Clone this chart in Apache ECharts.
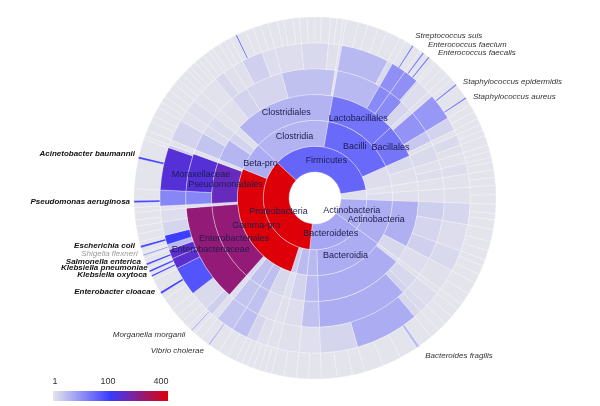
<!DOCTYPE html>
<html><head><meta charset="utf-8">
<script src="https://cdn.jsdelivr.net/npm/echarts@6/dist/echarts.min.js"></script>
<style>html,body{margin:0;padding:0;background:#fff}#c{width:600px;height:406px}</style>
</head><body><div id="c"></div>
<script>
// ---------------- data (angles in degrees, colour score 1..400) ----------------
const phyla = [
  ['Firmicutes', 31], ['OtherPhyla', 1.1], ['Actinobacteria', 4.4], ['Bacteroidetes', 5.3], ['Proteobacteria', 400]
];
const classes = [
  ['Clostridia','Firmicutes',3.8], ['Bacilli','Firmicutes',28], ['Fc_other','Firmicutes',1.2],
  ['OPc1','OtherPhyla',1.05], ['OPc2','OtherPhyla',1.2],
  ['Actinobacteria_c','Actinobacteria',4.4],
  ['Bacteroidia','Bacteroidetes',4.6], ['Flavobacteriia','Bacteroidetes',3.2],
  ['Alpha-pro','Proteobacteria',3], ['Delta-pro','Proteobacteria',1.8],
  ['Gamma-pro','Proteobacteria',400], ['Beta-pro','Proteobacteria',4.6]
];
const orders = [
  ['Clostridiales','Clostridia',3.8],
  ['Lactobacillales','Bacilli',21], ['Bacillales','Bacilli',20],
  ['Fo1','Fc_other',1.3], ['Fo2','Fc_other',1.1],
  ['OPo1','OPc1',1.05], ['OPo2','OPc2',1.15],
  ['Actinomycetales','Actinobacteria_c',4.2], ['Ao2','Actinobacteria_c',1.4],
  ['Bo0','Bacteroidia',1.2], ['Bacteroidales','Bacteroidia',4.6],
  ['Flavobacteriales','Flavobacteriia',3],
  ['Rhizobiales','Alpha-pro',1.6], ['Do1','Delta-pro',1.15],
  ['Go1','Gamma-pro',1.4], ['Pasteurellales','Gamma-pro',2.8], ['Vibrionales','Gamma-pro',2.6], ['Go3','Gamma-pro',1.3],
  ['Enterobacteriales','Gamma-pro',265], ['Xanthomonadales','Gamma-pro',1.3],
  ['Pseudomonadales','Gamma-pro',181], ['Go5','Gamma-pro',1.1],
  ['Burkholderiales','Beta-pro',3.6], ['Neisseriales','Beta-pro',1.6], ['Bo3','Beta-pro',1.1]
];
const families = [
  ['Cf0','Clostridiales',1.1], ['Peptostreptococcaceae','Clostridiales',1.6], ['Lachnospiraceae','Clostridiales',1.5],
  ['Clostridiaceae','Clostridiales',2.6], ['Cf4','Clostridiales',1.05],
  ['Lactobacillaceae','Lactobacillales',3.2], ['Streptococcaceae','Lactobacillales',11.5],
  ['Enterococcaceae','Lactobacillales',11.5], ['Lf3','Lactobacillales',1.5],
  ['Bf0','Bacillales',1.2], ['Staphylococcaceae','Bacillales',9], ['Bacillaceae','Bacillales',2.2], ['Bf3','Bacillales',1.1],
  ['Ff1','Fo1',1.3], ['Ff2','Fo2',1.1], ['Ff3','Fo2',1.2],
  ['OPf1','OPo1',1.05], ['OPf2','OPo2',1.1],
  ['Af1','Actinomycetales',1.8], ['Af2','Actinomycetales',1.5], ['Af3','Actinomycetales',1.7], ['Af4','Ao2',1.2],
  ['Bxf0','Bo0',1.1], ['Bf_1','Bacteroidales',1.4], ['Bf_2','Bacteroidales',1.6], ['Bacteroidaceae','Bacteroidales',4.6],
  ['Flavobacteriaceae','Flavobacteriales',2.6],
  ['Pf1','Rhizobiales',1.2], ['Pf2','Do1',1.1],
  ['Gf1','Go1',1.2], ['Pasteurellaceae','Pasteurellales',2.6], ['Vibrionaceae','Vibrionales',2.4], ['Gf3','Go3',1.15],
  ['Enterobacteriaceae','Enterobacteriales',265], ['Gf4','Xanthomonadales',1.1],
  ['Pseudomonadaceae','Pseudomonadales',12.6], ['Moraxellaceae','Pseudomonadales',150], ['Gf5','Go5',1.05],
  ['Bkf1','Burkholderiales',2.4], ['Bkf2','Burkholderiales',1.3], ['Nf','Neisseriales',1.3], ['Bof','Bo3',1.05]
];
const genera = [
  ['Cg0','Cf0',1.05], ['Pg1','Peptostreptococcaceae',1.4], ['Pg2','Peptostreptococcaceae',1.1],
  ['Lg1','Lachnospiraceae',1.1], ['Lg2','Lachnospiraceae',1.7], ['Lg3','Lachnospiraceae',1.2],
  ['Cg1','Clostridiaceae',1.2], ['Cg2','Clostridiaceae',1.35], ['Cg3','Clostridiaceae',1.1], ['Cg4','Cf4',1.05],
  ['Lactobacillus','Lactobacillaceae',3.2], ['Lgx','Lactobacillaceae',1.3],
  ['Streptococcus','Streptococcaceae',10], ['Enterococcus','Enterococcaceae',10], ['Eg2','Enterococcaceae',1.5],
  ['Lg3x','Lf3',1.2], ['Bg0','Bf0',1.1], ['Staphylococcus','Staphylococcaceae',8],
  ['Bacillus','Bacillaceae',1.6], ['Bg3','Bf3',1.05],
  ['Ffg1','Ff1',1.3], ['Ffg2','Ff1',1.1], ['Ffg3','Ff2',1.05], ['Ffg4','Ff3',1.2],
  ['OPg1','OPf1',1.05], ['OPg2','OPf2',1.1],
  ['Ag1','Af1',1.45], ['Ag2','Af2',1.2], ['Ag3','Af3',1.35], ['Ag4','Af4',1.1],
  ['Bxg0','Bxf0',1.05], ['Bg_1','Bf_1',1.2], ['Bg_2','Bf_2',1.3],
  ['Bg_3','Bacteroidaceae',1.4], ['Bacteroides','Bacteroidaceae',4.6], ['Bg_5','Bacteroidaceae',1.5],
  ['Flg','Flavobacteriaceae',1.15], ['Pg_1','Pf1',1.1], ['Pg_2','Pf2',1.05],
  ['Gg1','Gf1',1.1], ['Gg2','Gf1',1.5], ['Haemophilus','Pasteurellaceae',2.8], ['Vibrio','Vibrionaceae',2.4], ['Gg3','Gf3',1.1],
  ['Morganella','Enterobacteriaceae',1.8], ['Eg_a','Enterobacteriaceae',1.3], ['Enterobacter','Enterobacteriaceae',49],
  ['Klebsiella','Enterobacteriaceae',160], ['Salmonella','Enterobacteriaceae',160], ['Shigella','Enterobacteriaceae',3],
  ['Escherichia','Enterobacteriaceae',90], ['Eg_c','Enterobacteriaceae',1.5], ['Eg_d','Enterobacteriaceae',1.2],
  ['Gg4','Gf4',1.05], ['Pseudomonas','Pseudomonadaceae',12.6],
  ['Acinetobacter','Moraxellaceae',150], ['Mg2','Moraxellaceae',2], ['Gg5','Gf5',1.05],
  ['Bkg1','Bkf1',1.6], ['Bkg2','Bkf2',1.15], ['Ng','Nf',1.2], ['Bog','Bof',1.05]
];
// species per genus: a number = unnamed species (degrees); [name, degrees, score] = named species
const species = [
  ['Cg0',[2,1.5,2,1.5]], ['Pg1',[2,2]], ['Pg2',[1.5,2.5]],
  ['Lg1',[2,2]], ['Lg2',[2,['',0.5,30],3,2.5]], ['Lg3',[2.5,2.5]],
  ['Cg1',[3,2,3,2]], ['Cg2',[2.5,2.5,2,3]], ['Cg3',[2,2]], ['Cg4',[1]],
  ['Lactobacillus',[4,3,3.5,3,4.5]], ['Lgx',[2]],
  ['Streptococcus',[2.5,['Streptococcus suis',0.6,14],2.4]],
  ['Enterococcus',[1,['Enterococcus faecium',0.6,14],1.6,['Enterococcus faecalis',0.6,14],1.7]],
  ['Eg2',[1]], ['Lg3x',[2.5,2.5]], ['Bg0',[2]],
  ['Staphylococcus',[2,['Staphylococcus epidermidis',0.6,14],4.6,['Staphylococcus aureus',0.6,14],2.2]],
  ['Bacillus',[2.5,2.5]], ['Bg3',[2]],
  ['Ffg1',[2,2]], ['Ffg2',[3]], ['Ffg3',[2,2]], ['Ffg4',[1.5,2.5]],
  ['OPg1',[2.5,2.5]], ['OPg2',[3,3]],
  ['Ag1',[3,2,3]], ['Ag2',[4,3,3]], ['Ag3',[2,3,3]], ['Ag4',[4,4]],
  ['Bxg0',[2]], ['Bg_1',[3,3]], ['Bg_2',[3]], ['Bg_3',[3]],
  ['Bacteroides',[4.8,['Bacteroides fragilis',1,3],6,6,6.2]],
  ['Bg_5',[4,5,5]], ['Flg',[4,4]], ['Pg_1',[4,4]], ['Pg_2',[2,2]],
  ['Gg1',[2,2]], ['Gg2',[2,2]], ['Haemophilus',[3,3]],
  ['Vibrio',[3.5,['Vibrio cholerae',0.7,3],2.8]], ['Gg3',[2.5]],
  ['Morganella',[1.2,['Morganella morganii',0.6,3],1.2]],
  ['Eg_a',[2.5,2.5,2.5]],
  ['Enterobacter',[4,2,['Enterobacter cloacae',0.8,70],4.2]],
  ['Klebsiella',[1.2,['Klebsiella oxytoca',0.6,70],1,['Klebsiella pneumoniae',0.7,70],0.5]],
  ['Salmonella',[1.2,['Salmonella enterica',0.7,70],1.6]],
  ['Shigella',[0.8,['Shigella flexneri',0.6,6],0.6]],
  ['Escherichia',[1.5,['Escherichia coli',0.8,70],1.2]],
  ['Eg_c',[2.5,2.5]], ['Eg_d',[2,2.5]], ['Gg4',[1.5]],
  ['Pseudomonas',[1.5,['Pseudomonas aeruginosa',0.8,70],3.7]],
  ['Acinetobacter',[9.5,['Acinetobacter baumannii',0.8,70],5.7]],
  ['Mg2',[1]], ['Gg5',[2]],
  ['Bkg1',[3,2,3]], ['Bkg2',[2,2]], ['Ng',[2.5,2.5]], ['Bog',[2,2]]
];
const innerLabels = [
  ['Firmicutes','Firmicutes'], ['Actinobacteria','Actinobacteria'], ['Bacteroidetes','Bacteroidetes'], ['Proteobacteria','Proteobacteria'],
  ['Clostridia','Clostridia'], ['Bacilli','Bacilli'], ['Actinobacteria_c','Actinobacteria'], ['Bacteroidia','Bacteroidia'],
  ['Gamma-pro','Gamma-pro'], ['Beta-pro','Beta-pro'],
  ['Clostridiales','Clostridiales'], ['Lactobacillales','Lactobacillales'], ['Bacillales','Bacillales'],
  ['Enterobacteriales','Enterobacteriales'], ['Pseudomonadales','Pseudomonadales'],
  ['Enterobacteriaceae','Enterobacteriaceae'], ['Moraxellaceae','Moraxellaceae']
];
const boldSpecies = ['Acinetobacter baumannii','Pseudomonas aeruginosa','Escherichia coli','Salmonella enterica',
  'Klebsiella pneumoniae','Klebsiella oxytoca','Enterobacter cloacae'];
const scaleTicks = [1, 100, 400];
const scaleColors = ['#e4e4ec', '#3a3aff', '#dd0008'];

// ---------------- styling ----------------
const FONT = 'Liberation Sans';
const labelNudge = { // [dx, dy] in px applied to the outside species labels
  'Acinetobacter baumannii':[-1.6,-3.6], 'Pseudomonas aeruginosa':[-2,0], 'Escherichia coli':[-3.7,-1.5],
  'Shigella flexneri':[-3.7,-1.8], 'Salmonella enterica':[-3.7,-3.2], 'Klebsiella pneumoniae':[0,-4.3],
  'Klebsiella oxytoca':[-2.8,-1.8], 'Enterobacter cloacae':[-4,-1.9], 'Morganella morganii':[-5,3.2],
  'Vibrio cholerae':[-3.8,4.7], 'Streptococcus suis':[1,-8.2], 'Enterococcus faecium':[3.4,-6.5],
  'Enterococcus faecalis':[7.8,-2.8], 'Staphylococcus epidermidis':[5,-1.6], 'Staphylococcus aureus':[5.4,0],
  'Bacteroides fragilis':[6,7.6]
};
function tOf(s) { return s <= 100 ? 0.5 * Math.log(Math.max(s, 1)) / Math.log(100) : 0.5 + 0.5 * (s - 100) / 300; }
function colorOf(s) { return echarts.color.lerp(tOf(s), scaleColors); }
const innerMap = Object.fromEntries(innerLabels);

function speciesLabel(name) {
  const bold = boldSpecies.includes(name);
  const [dx, dy] = labelNudge[name] || [0, 0];
  const l = { show: true, position: 'outside', distance: 2, rotate: 0, fontStyle: 'italic', fontSize: 8,
    fontWeight: bold ? 'bold' : 'normal', color: name === 'Shigella flexneri' ? '#9a9a9a' : (bold ? '#111' : '#333'),
    fontFamily: FONT, padding: [0, Math.max(0, -dx), 0, Math.max(0, dx)] };
  if (Math.abs(dy) >= 0.5) { l.verticalAlign = dy < 0 ? 'bottom' : 'top'; l.lineHeight = 2 * Math.abs(dy); }
  return l;
}

const nodes = {};
function makeNode(id, s) {
  const n = { name: id, children: [], itemStyle: { color: colorOf(s) } };
  if (innerMap[id]) n.label = { show: true, formatter: innerMap[id], rotate: 0, fontSize: 9, color: '#1d1d4d', fontFamily: FONT };
  return n;
}
const roots = phyla.map(([id, s]) => (nodes[id] = makeNode(id, s)));
[classes, orders, families, genera].forEach(level => level.forEach(([id, p, s]) => {
  nodes[id] = makeNode(id, s); nodes[p].children.push(nodes[id]);
}));
species.forEach(([p, items]) => items.forEach(it => {
  const [name, v, s] = typeof it === 'number' ? ['', it, 1.0] : it;
  const leaf = { name: name, value: v, itemStyle: { color: colorOf(s) } };
  if (name) leaf.label = speciesLabel(name);
  nodes[p].children.push(leaf);
}));

const chart = echarts.init(document.getElementById('c'), null, { renderer: 'canvas' });
chart.setOption({
  animation: false,
  series: [{
    type: 'sunburst', center: [315, 198], radius: [26, 181], startAngle: 137, clockwise: true,
    sort: null, nodeClick: false, emphasis: { disabled: true },
    itemStyle: { borderColor: 'rgba(246,246,250,0.85)', borderWidth: 0.4 },
    label: { show: false, rotate: 0 },
    data: roots
  }],
  graphic: [
    { type: 'rect', shape: { x: 53, y: 391, width: 115, height: 10 },
      style: { fill: { type: 'linear', x: 0, y: 0, x2: 1, y2: 0,
        colorStops: scaleTicks.map(v => ({ offset: tOf(v), color: colorOf(v) })) } } }
  ].concat(scaleTicks.map(v => ({
    type: 'text', x: 55 + 106 * tOf(v), y: 382,
    style: { text: String(v), fill: '#333', fontSize: 9, fontFamily: FONT, align: 'center', verticalAlign: 'middle' }
  })))
});
</script></body></html>
